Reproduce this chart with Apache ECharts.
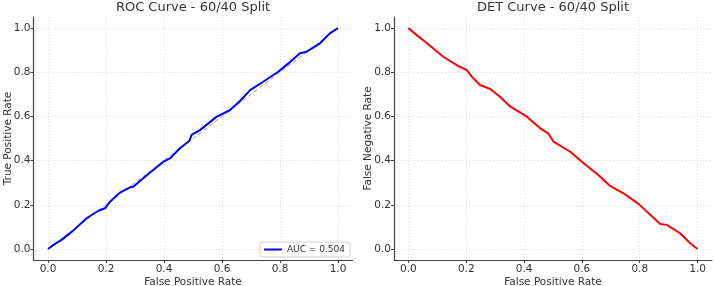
<!DOCTYPE html>
<html>
<head>
<meta charset="utf-8">
<script src="https://cdn.jsdelivr.net/npm/echarts@6/dist/echarts.min.js"></script>
<style>
    html, body { margin: 0; padding: 0; background: #fff; }
    #chart { width: 714px; height: 286px; }
</style>
</head>
<body>
<div id="chart"></div>
<script>
// values
var tickValues = [0, 0.2, 0.4, 0.6, 0.8, 1.0];

var rocFpr = [0, 0.024, 0.047, 0.087, 0.133, 0.174, 0.197, 0.214, 0.248, 0.283, 0.294, 0.346,
    0.398, 0.421, 0.455, 0.488, 0.495, 0.524, 0.582, 0.593, 0.628, 0.662, 0.697, 0.742,
    0.794, 0.829, 0.869, 0.892, 0.938, 0.972, 1.0];
var rocTpr = [0, 0.023, 0.041, 0.083, 0.139, 0.173, 0.184, 0.214, 0.255, 0.279, 0.282, 0.339,
    0.395, 0.410, 0.456, 0.490, 0.516, 0.538, 0.599, 0.606, 0.629, 0.670, 0.719, 0.757,
    0.802, 0.840, 0.886, 0.893, 0.931, 0.976, 1.0];

var detFpr = [0, 0.029, 0.058, 0.121, 0.173, 0.202, 0.219, 0.248, 0.283, 0.317, 0.352, 0.410,
    0.456, 0.484, 0.502, 0.560, 0.600, 0.657, 0.698, 0.744, 0.796, 0.825, 0.871, 0.894,
    0.940, 0.975, 1.0];
var detFnr = [1.0, 0.968, 0.938, 0.870, 0.828, 0.810, 0.780, 0.742, 0.724, 0.689, 0.645, 0.599,
    0.546, 0.523, 0.486, 0.440, 0.395, 0.335, 0.285, 0.252, 0.204, 0.169, 0.113, 0.109,
    0.071, 0.026, 0.0];

var diagX = [0, 1];
var diagY = [0, 1];
var aucLabel = 'AUC = 0.504';

function pairs(xs, ys) {
    var out = [];
    for (var i = 0; i < xs.length; i++) {
        out.push([xs[i], ys[i]]);
    }
    return out;
}

var textColor = '#333';
var font = 'DejaVu Sans';

function genAxis(gridIndex, name, isY) {
    return {
        type: 'value',
        gridIndex: gridIndex,
        min: -0.05,
        max: 1.05,
        name: name,
        nameLocation: 'middle',
        nameGap: isY ? 20 : 17,
        nameMoveOverlap: false,
        nameTextStyle: { color: textColor, fontSize: 10.5, fontFamily: font },
        axisLine: { show: true, onZero: false, lineStyle: { color: '#444', width: 1.2 } },
        axisTick: { show: true, length: 3, customValues: tickValues, lineStyle: { color: '#444' } },
        axisLabel: {
            customValues: tickValues,
            margin: isY ? 3 : 4,
            color: textColor,
            fontSize: 10.5,
            fontFamily: font,
            formatter: function (v) { return v.toFixed(1); }
        },
        splitLine: {
            show: true,
            lineStyle: { color: '#d4d4d4', type: [1, 2], width: 0.8 }
        }
    };
}

var chart = echarts.init(document.getElementById('chart'));

chart.setOption({
    animation: false,
    backgroundColor: '#fff',
    title: [{
        text: 'ROC Curve - 60/40 Split',
        left: 193,
        top: 1,
        padding: 0,
        textAlign: 'center',
        textStyle: { color: textColor, fontSize: 13, lineHeight: 13, fontWeight: 'normal', fontFamily: font }
    }, {
        text: 'DET Curve - 60/40 Split',
        left: 553,
        top: 1,
        padding: 0,
        textAlign: 'center',
        textStyle: { color: textColor, fontSize: 13, lineHeight: 13, fontWeight: 'normal', fontFamily: font }
    }],
    legend: {
        data: [aucLabel],
        right: 364,
        bottom: 29,
        orient: 'vertical',
        icon: 'rect',
        itemWidth: 18,
        itemHeight: 2,
        itemGap: 6,
        padding: [3, 5, 3, 4],
        borderColor: '#d0d0d0',
        borderWidth: 1,
        borderRadius: 3,
        backgroundColor: 'rgba(255,255,255,0.8)',
        textStyle: { color: textColor, fontSize: 9, fontFamily: font }
    },
    grid: [
        { left: 33.5, right: 361.5, top: 17, bottom: 26, containLabel: false, outerBoundsMode: 'none' },
        { left: 394, right: 2, top: 17, bottom: 26, containLabel: false, outerBoundsMode: 'none' }
    ],
    xAxis: [
        genAxis(0, 'False Positive Rate', false),
        genAxis(1, 'False Positive Rate', false)
    ],
    yAxis: [
        genAxis(0, 'True Positive Rate', true),
        genAxis(1, 'False Negative Rate', true)
    ],
    series: [{
        type: 'line',
        xAxisIndex: 0,
        yAxisIndex: 0,
        data: pairs(diagX, diagY),
        symbol: 'none',
        silent: true,
        lineStyle: { color: '#999', width: 1, type: [4, 3] },
        z: 1
    }, {
        name: aucLabel,
        type: 'line',
        xAxisIndex: 0,
        yAxisIndex: 0,
        data: pairs(rocFpr, rocTpr),
        symbol: 'none',
        color: '#0000ff',
        lineStyle: { color: '#0000ff', width: 2 },
        z: 3
    }, {
        type: 'line',
        xAxisIndex: 1,
        yAxisIndex: 1,
        data: pairs(detFpr, detFnr),
        symbol: 'none',
        lineStyle: { color: '#ff0000', width: 2 },
        z: 3
    }]
});
</script>
</body>
</html>
